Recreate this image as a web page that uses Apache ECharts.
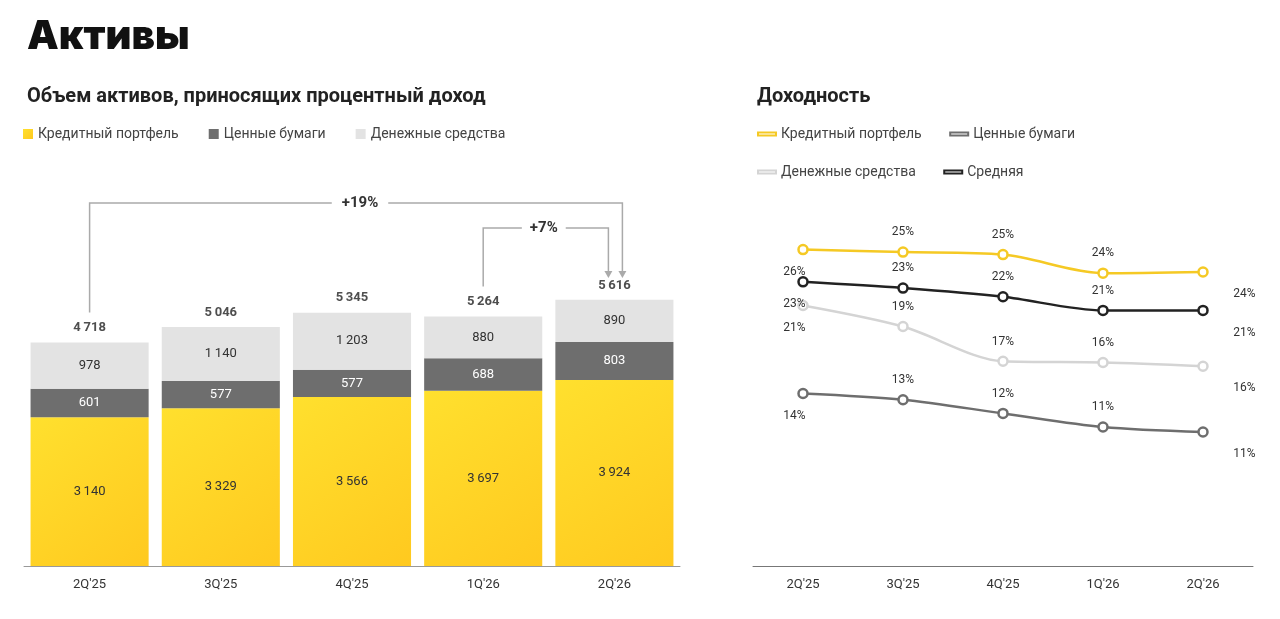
<!DOCTYPE html>
<html lang="ru">
<head>
<meta charset="UTF-8">
<title>Активы</title>
<style>
  html, body { margin: 0; padding: 0; background: #fff; }
  #chart { width: 1280px; height: 619px; }
</style>
<script src="https://cdn.jsdelivr.net/npm/echarts@6/dist/echarts.min.js"></script>
</head>
<body>
<div id="chart"></div>
<script>
var quarters = ['2Q\'25', '3Q\'25', '4Q\'25', '1Q\'26', '2Q\'26'];
var loans = [3140, 3329, 3566, 3697, 3924];
var securities = [601, 577, 577, 688, 803];
var cash = [978, 1140, 1203, 880, 890];
var totals = [4718, 5046, 5345, 5264, 5616];

var yieldLoans = [25.5, 25.3, 25.1, 23.6, 23.7];
var yieldLoansLbl = [26, 25, 25, 24, 24];
var yieldAvg = [22.9, 22.4, 21.7, 20.6, 20.6];
var yieldAvgLbl = [23, 23, 22, 21, 21];
var yieldCash = [21.0, 19.3, 16.5, 16.4, 16.1];
var yieldCashLbl = [21, 19, 17, 16, 16];
var yieldSec = [13.9, 13.4, 12.3, 11.2, 10.8];
var yieldSecLbl = [14, 13, 12, 11, 11];

var FONT = 'Roboto, "Noto Sans", sans-serif';
function fmt(v) { return String(v).replace(/\B(?=(\d{3})+(?!\d))/g, '\u2009'); }

var chart = echarts.init(document.getElementById('chart'));

function lineSeries(name, data, labels, color) {
  return {
    name: name, type: 'line', xAxisIndex: 1, yAxisIndex: 1, data: data,
    smooth: 0.3, symbol: 'circle', symbolSize: 9,
    lineStyle: { color: color, width: 2.5 },
    itemStyle: { color: '#fff', borderColor: color, borderWidth: 2.5 },
    label: {
      show: true, fontFamily: FONT, fontSize: 12, color: '#333', distance: 8,
      formatter: function (p) { return labels[p.dataIndex] + '%'; },
      position: 'top'
    },
    labelLayout: function (p) {
      if (p.dataIndex === 0) return { x: p.rect.x - 14, y: p.rect.y + 22 };
      if (p.dataIndex === 4) return { x: p.rect.x + 36, y: p.rect.y + 22 };
      return {};
    }
  };
}

var barColorYellow = new echarts.graphic.LinearGradient(0, 0, 1, 1, [
  { offset: 0, color: '#ffe02e' }, { offset: 1, color: '#ffc91f' }
]);

var option = {
  animation: false,
  textStyle: { fontFamily: FONT },
  title: [
    { text: 'Активы', left: 22, top: 12, textStyle: { fontSize: 40, fontWeight: 900, color: '#111', fontFamily: 'Inter, Roboto, sans-serif' } },
    { text: 'Объем активов, приносящих процентный доход', left: 22, top: 82, textStyle: { fontSize: 20, fontWeight: 'bold', color: '#222' } },
    { text: 'Доходность', left: 752, top: 82, textStyle: { fontSize: 20, fontWeight: 'bold', color: '#222' } }
  ],
  legend: [
    {
      left: 18, top: 122, itemWidth: 10, itemHeight: 10, itemGap: 30, icon: 'rect',
      textStyle: { fontSize: 14, color: '#444' },
      data: ['Кредитный портфель', 'Ценные бумаги', 'Денежные средства']
    },
    {
      left: 752, top: 122, width: 380, itemWidth: 18, itemHeight: 3, itemGap: 24, icon: 'rect',
      textStyle: { fontSize: 14, color: '#444' },
      data: ['Кредитный портфель ', 'Ценные бумаги ', 'Денежные средства ', 'Средняя']
    }
  ],
  grid: [
    { left: 24, width: 656, top: 149, height: 417 },
    { left: 753, width: 500, top: 164, height: 402 }
  ],
  xAxis: [
    { type: 'category', gridIndex: 0, data: quarters, axisTick: { show: false },
      axisLine: { lineStyle: { color: '#999' } }, axisLabel: { fontSize: 13, color: '#333', margin: 12 } },
    { type: 'category', gridIndex: 1, data: quarters, axisTick: { show: false },
      axisLine: { lineStyle: { color: '#777' } }, axisLabel: { fontSize: 13, color: '#333', margin: 12 } }
  ],
  yAxis: [
    { type: 'value', gridIndex: 0, min: 0, max: 8800, show: false },
    { type: 'value', gridIndex: 1, min: 0, max: 32.4, show: false }
  ],
  series: [
    { name: 'Кредитный портфель', type: 'bar', stack: 'a', data: loans, barCategoryGap: '10%',
      itemStyle: { color: barColorYellow }, color: '#ffd51f',
      label: { show: true, color: '#333', fontSize: 13, formatter: function (p) { return fmt(p.value); } } },
    { name: 'Ценные бумаги', type: 'bar', stack: 'a', data: securities, color: '#6e6e6e',
      label: { show: true, color: '#fff', fontSize: 13, formatter: function (p) { return fmt(p.value); } } },
    { name: 'Денежные средства', type: 'bar', stack: 'a', data: cash, color: '#e3e3e3',
      label: { show: true, color: '#333', fontSize: 13, formatter: function (p) { return fmt(p.value); } } },
    { name: 'total', type: 'scatter', data: totals, symbolSize: 0, silent: true,
      label: { show: true, position: 'top', distance: 8, fontSize: 13, fontWeight: 'bold', color: '#222',
        formatter: function (p) { return fmt(p.value); } } },
    Object.assign(lineSeries('Кредитный портфель ', yieldLoans, yieldLoansLbl, '#f5c924'), { color: '#f5c924' }),
    Object.assign(lineSeries('Ценные бумаги ', yieldSec, yieldSecLbl, '#6e6e6e'), { color: '#6e6e6e' }),
    Object.assign(lineSeries('Денежные средства ', yieldCash, yieldCashLbl, '#d4d4d4'), { color: '#d4d4d4' }),
    Object.assign(lineSeries('Средняя', yieldAvg, yieldAvgLbl, '#222'), { color: '#222' })
  ]
};
chart.setOption(option);

// growth brackets above the bars
function px(i, v) { return chart.convertToPixel({ gridIndex: 0 }, [i, v]); }
var p0 = px(0, totals[0]), p3 = px(3, totals[3]), p4 = px(4, totals[4]);
var bracketColor = '#aaa';
var yTop19 = p4[1] - 97, yTop7 = p4[1] - 72;
var x4a = p4[0] + 8, x4b = p4[0] - 6;
var endY = p4[1] - 22;
function arrow(x, y) {
  return { type: 'polygon', shape: { points: [[x - 4, y - 7], [x + 4, y - 7], [x, y]] }, style: { fill: bracketColor } };
}
chart.setOption({
  graphic: [
    { type: 'polyline', shape: { points: [[p0[0], p0[1] - 30], [p0[0], yTop19], [x4a, yTop19], [x4a, endY - 5]] },
      style: { stroke: bracketColor, lineWidth: 1.5, fill: null } },
    arrow(x4a, endY),
    { type: 'polyline', shape: { points: [[p3[0], p3[1] - 30], [p3[0], yTop7], [x4b, yTop7], [x4b, endY - 5]] },
      style: { stroke: bracketColor, lineWidth: 1.5, fill: null } },
    arrow(x4b, endY),
    { type: 'text', x: (p0[0] + x4a) / 2 + 4, y: yTop19, style: { text: '+19%', fontSize: 15, fontWeight: 'bold', fill: '#333',
      align: 'center', verticalAlign: 'middle', backgroundColor: '#fff', padding: [2, 10], fontFamily: FONT } },
    { type: 'text', x: (p3[0] + x4b) / 2 - 2, y: yTop7, style: { text: '+7%', fontSize: 15, fontWeight: 'bold', fill: '#333',
      align: 'center', verticalAlign: 'middle', backgroundColor: '#fff', padding: [2, 8], fontFamily: FONT } }
  ]
});
</script>
</body>
</html>
